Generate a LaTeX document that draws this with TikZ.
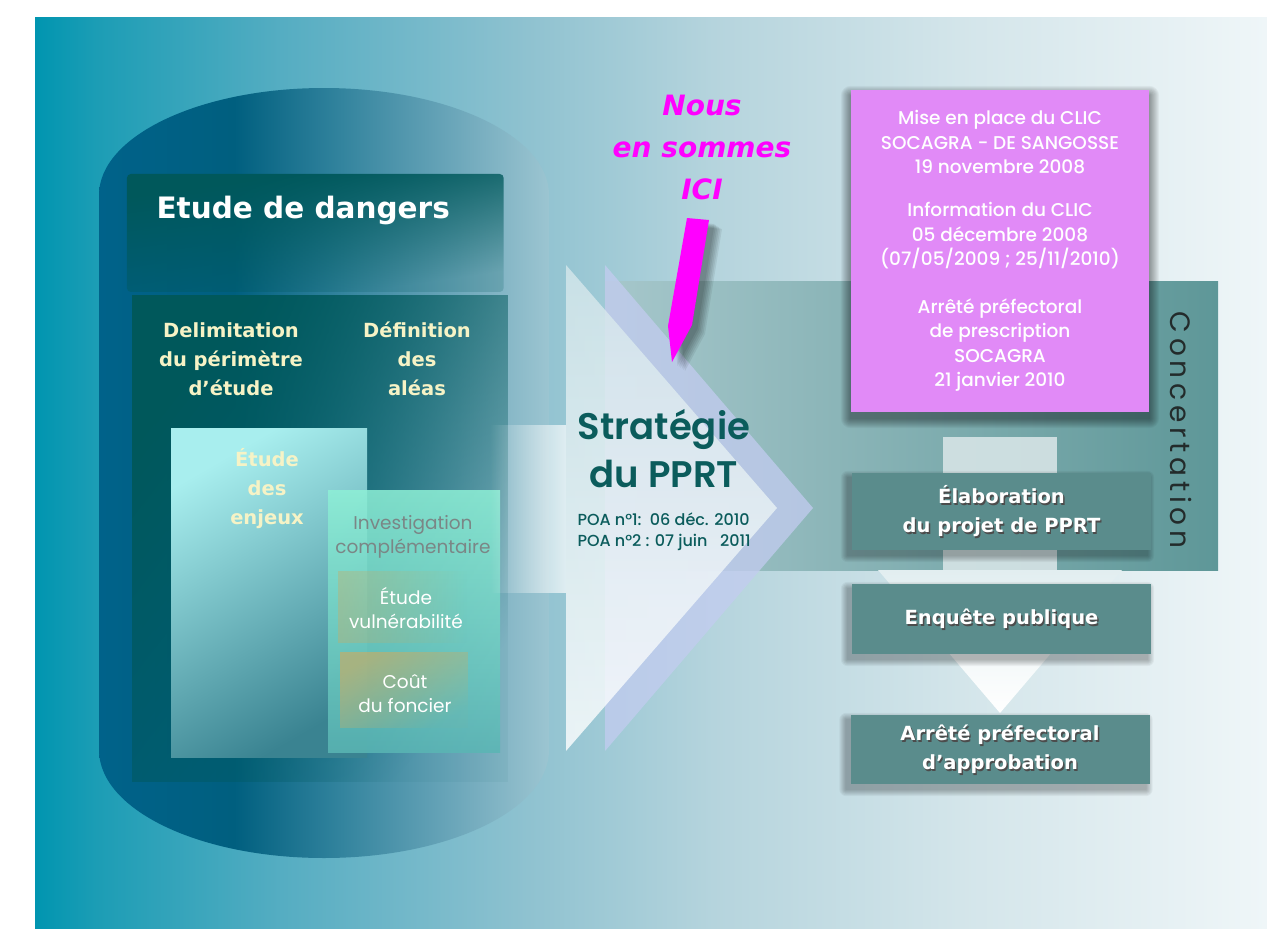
\documentclass[tikz,border=0pt]{standalone}
\usepackage{fontspec}
\setmainfont{DejaVu Sans}
\newfontfamily\gothic{Poppins}
\newfontfamily\gothicmed{Poppins Medium}
\newfontfamily\gothicsemi{Poppins SemiBold}
\newfontfamily\gothicwide[LetterSpace=17]{Poppins}
\usepackage{tikz}
\usetikzlibrary{calc}
\usetikzlibrary{math}
\usetikzlibrary{fadings}

\definecolor{panelA}{HTML}{0095B0}
\definecolor{panelB}{HTML}{1C9DB5}
\definecolor{panelC}{HTML}{55ADC2}
\definecolor{panelD}{HTML}{8FC2D0}
\definecolor{panelE}{HTML}{B5D4DD}
\definecolor{panelF}{HTML}{D3E5EA}
\definecolor{panelG}{HTML}{EFF6F8}
\definecolor{cylA}{HTML}{00628A}
\definecolor{cylB}{HTML}{005F7F}
\definecolor{cylC}{HTML}{33849E}
\definecolor{cylD}{HTML}{6EA8BB}
\definecolor{cylE}{HTML}{9CC5D1}
\definecolor{deep}{HTML}{00585B}
\definecolor{pale}{HTML}{F6F3C6}
\definecolor{orchid}{HTML}{E18AF7}
\definecolor{slate}{HTML}{5A8C8C}
\definecolor{petrol}{HTML}{0B5C5C}
\definecolor{ici}{HTML}{FF00FF}
\definecolor{lilac}{HTML}{C3CCF0}
\definecolor{bandL}{HTML}{A6C7CB}
\definecolor{bandR}{HTML}{5E9798}
\definecolor{mist}{HTML}{D6E4E6}
\definecolor{headtop}{HTML}{E2EEF0}
\definecolor{arrtop}{HTML}{D5E7EB}
\definecolor{enjA}{HTML}{A8EEEE}
\definecolor{enjM}{HTML}{4E98A3}
\definecolor{enjB}{HTML}{3A8391}
\definecolor{invA}{HTML}{8EF0D6}
\definecolor{invB}{HTML}{5AB6B4}
\definecolor{sand}{HTML}{C2AE6A}
\definecolor{greytext}{HTML}{7B8686}
\definecolor{ink}{HTML}{232B2B}

\pgfdeclarehorizontalshading{panelshade}{100bp}{color(0bp)=(panelA); color(25bp)=(panelA); color(27.5bp)=(panelB); color(35bp)=(panelC); color(45bp)=(panelD); color(52.5bp)=(panelE); color(62.5bp)=(panelF); color(75bp)=(panelG); color(100bp)=(panelG)}
\pgfdeclarehorizontalshading{cylshade}{100bp}{color(0bp)=(cylA); color(25bp)=(cylA); color(40bp)=(cylB); color(52bp)=(cylC); color(65bp)=(cylD); color(75bp)=(cylE); color(100bp)=(cylE)}

\tikzfading[name=fadetop, top color=transparent!0, middle color=transparent!15, bottom color=transparent!80, shading angle=25]
\tikzfading[name=fadediag, top color=transparent!0, bottom color=transparent!95, shading angle=45]
\tikzfading[name=faderight, left color=transparent!0, right color=transparent!100]
\tikzfading[name=fadeleft, left color=transparent!100, right color=transparent!0]

\pgfdeclarelayer{back}
\pgfdeclarelayer{shade}
\pgfsetlayers{back,shade,main}

\newcommand\pointerpath{(687,218) -- (709,220) -- (692,325) -- (672,362) -- (668,326) -- cycle}
\newcommand\etape[4]{%
  \node[box, minimum height=#3] (#1) at (#2) {};
  \node[btext, text=black!70] (#1-s) at ($(#1)+(1.4,1.4)$) {#4};
  \node[btext] (#1-t) at (#1) {#4};
}

\begin{document}
\begin{tikzpicture}[x=1pt, y=-1pt,
  box/.style={fill=slate, minimum width=299, inner sep=0pt},
  btext/.style={text=white, align=center, font=\bfseries\fontsize{19.5}{29}\selectfont},
  title/.style={text=white, font=\bfseries\fontsize{29.5}{34}\selectfont},
  yellowtext/.style={text=pale, align=center, font=\bfseries\fontsize{19.5}{29}\selectfont},
  softtext/.style={align=center, font=\gothic\fontsize{18.5}{24}\selectfont}]
  \tikzmath{
    \ax = 566; \ay = 508; \ah = 243; % big arrow
    \vy = 570; % arrow down
  }
\useasboundingbox (0,0) rectangle (1267,929);

\begin{pgfonlayer}{back}
  \shade[shading=panelshade] (35,17) rectangle (1267,929);
  \shade[left color=bandL, right color=bandR] (605,281) rectangle (1218,570);
  \shade[shading=cylshade] (99,195) .. controls (99,136) and (200,88) .. (324,88)
     .. controls (448,88) and (549,136) .. (549,195) -- (549,750)
     .. controls (549,810) and (448,858) .. (324,858)
     .. controls (200,858) and (99,810) .. (99,750) -- cycle;
  \fill[deep, rounded corners=4, path fading=fadetop] (127,174) rectangle (504,292);
  \fill[deep, path fading=fadediag] (132,295) rectangle (508,782);
  \shade[top color=enjA, middle color=enjM, bottom color=enjB, shading angle=30] (171,428) rectangle (367,757);
  \shade[top color=invA, bottom color=invB, opacity=0.85] (328,490) rectangle (500,752);
  \fill[sand, opacity=0.4, path fading=faderight] (338,571) rectangle (467,643);
  \fill[sand, opacity=0.7, path fading=fadediag] (340,652) rectangle (468,728);

  \fill[white, opacity=0.7, path fading=fadeleft] (490,425) rectangle (\ax,593);
  \fill[lilac, opacity=0.75] (605,\ay-\ah) -- (813,\ay) -- (605,\ay+\ah) -- cycle;
  \shade[top color=arrtop, bottom color=white, opacity=0.8] (\ax,\ay-\ah) -- (777,\ay) -- (\ax,\ay+\ah) -- cycle;

  \fill[mist, opacity=0.9] (943,437) rectangle (1057,\vy);
  \shade[top color=headtop, bottom color=white] (878,\vy) -- (1122,\vy) -- (1000,713) -- cycle;
\end{pgfonlayer}

\node[title, anchor=west] (dangers) at (153,210) {Etude de dangers};
\node[yellowtext] (delim) at (231,359) {Delimitation\\du périmètre\\d’étude};
\node[yellowtext] (alea) at (417,359) {Définition\\des\\aléas};
\node[yellowtext] (enjeux) at (267,489) {Étude\\des\\enjeux};
\node[softtext, text=greytext] (invest) at (413,537) {Investigation\\complémentaire};
\node[softtext, text=white] (vuln) at (406,608) {Étude\\vulnérabilité};
\node[softtext, text=white] (cout) at (405,694) {Coût\\du foncier};

\node[text=ici, align=center, font=\bfseries\itshape\fontsize{28}{42}\selectfont] (ici) at (702,147) {Nous\\en sommes\\ICI};
\node[text=petrol, align=center, font=\gothicsemi\fontsize{37}{48}\selectfont] (strat) at (664,449) {Stratégie\\du PPRT};
\node[text=petrol, align=left, anchor=west, font=\gothicmed\fontsize{16}{21}\selectfont] (poa) at (574,532)
  {POA n°1:\ \ 06 déc. 2010\\POA n°2 : 07 juin\ \ \ 2011};

\node[fill=orchid, minimum width=298, minimum height=322, text=white, align=center,
      font=\gothicmed\fontsize{18.5}{24.3}\selectfont] (clic) at (1000,251)
  {Mise en place du CLIC\\SOCAGRA - DE SANGOSSE\\19 novembre 2008\\[19pt]Information du CLIC\\05 décembre 2008\\(07/05/2009 ; 25/11/2010)\\[24pt]Arrêté préfectoral\\de prescription\\SOCAGRA\\21 janvier 2010};
\node[rotate=-90, text=ink, font=\gothicwide\fontsize{28}{30}\selectfont] (concert) at (1181,430) {Concertation};

\etape{elab}{1001.5,511.5}{77}{Élaboration\\du projet de PPRT}
\etape{enq}{1001.5,619}{70}{Enquête publique}
\etape{arrete}{1000,749.5}{69}{Arrêté préfectoral\\d’approbation}

\begin{pgfonlayer}{shade}
  \foreach \b/\dx/\dy/\n in {clic/0/6/10, elab/-4/5/7, enq/-4/5/7, arrete/-4/5/7}
    \foreach \k in {1,...,\n}
      \fill[black, opacity=0.045, rounded corners=\k]
        ($(\b.south west)+(\dx-\k,\dy+\k)$) rectangle ($(\b.north east)+(\dx+\k,\dy-\k)$);
  \foreach \k in {1,...,6}
    \fill[black, opacity=0.07, shift={(4+1.5*\k,3+\k)}] \pointerpath;
\end{pgfonlayer}
\fill[ici] \pointerpath;

\end{tikzpicture}
\end{document}
